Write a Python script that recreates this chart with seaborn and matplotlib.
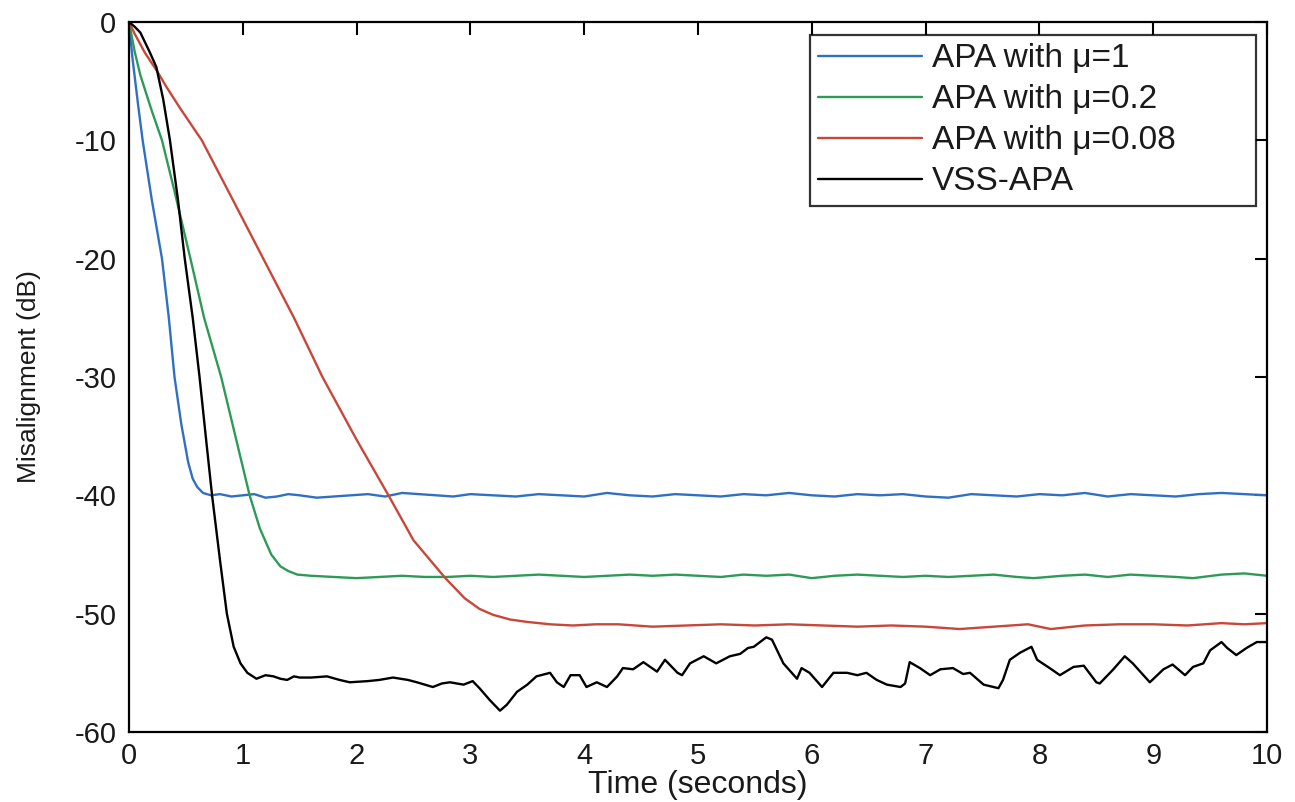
import matplotlib
matplotlib.use("Agg")
import matplotlib.pyplot as plt
import seaborn as sns
import pandas as pd

# ---- data ----
series_names = ["APA with \u03bc=1", "APA with \u03bc=0.2", "APA with \u03bc=0.08", "VSS-APA"]
series_colors = ["#3070c4", "#2e9a58", "#c9463a", "#000000"]

apa_mu1 = [(0, 0), (0.03, -3), (0.08, -7), (0.12, -10), (0.2, -15), (0.29, -20), (0.35, -25),
           (0.40, -30), (0.46, -34), (0.52, -37.2), (0.56, -38.6), (0.60, -39.3), (0.65, -39.8),
           (0.72, -40.0), (0.8, -39.9), (0.9, -40.1), (1.0, -40.0), (1.1, -39.9), (1.2, -40.2),
           (1.3, -40.1), (1.4, -39.9), (1.5, -40.0), (1.65, -40.2), (1.8, -40.1), (1.95, -40.0),
           (2.1, -39.9), (2.25, -40.1), (2.4, -39.8), (2.55, -39.9), (2.7, -40.0), (2.85, -40.1),
           (3.0, -39.9), (3.2, -40.0), (3.4, -40.1), (3.6, -39.9), (3.8, -40.0), (4.0, -40.1),
           (4.2, -39.8), (4.4, -40.0), (4.6, -40.1), (4.8, -39.9), (5.0, -40.0), (5.2, -40.1),
           (5.4, -39.9), (5.6, -40.0), (5.8, -39.8), (6.0, -40.0), (6.2, -40.1), (6.4, -39.9),
           (6.6, -40.0), (6.8, -39.9), (7.0, -40.1), (7.2, -40.2), (7.4, -39.9), (7.6, -40.0),
           (7.8, -40.1), (8.0, -39.9), (8.2, -40.0), (8.4, -39.8), (8.6, -40.1), (8.8, -39.9),
           (9.0, -40.0), (9.2, -40.1), (9.4, -39.9), (9.6, -39.8), (9.8, -39.9), (10.0, -40.0)]

apa_mu02 = [(0, 0), (0.05, -2.5), (0.1, -4.5), (0.2, -7.5), (0.29, -10), (0.4, -14.3), (0.54, -20),
            (0.66, -25), (0.81, -30), (0.94, -35.2), (1.06, -40), (1.15, -42.8), (1.25, -45.0),
            (1.33, -46.0), (1.40, -46.4), (1.48, -46.7), (1.6, -46.8), (1.8, -46.9), (2.0, -47.0),
            (2.2, -46.9), (2.4, -46.8), (2.6, -46.9), (2.8, -46.9), (3.0, -46.8), (3.2, -46.9),
            (3.4, -46.8), (3.6, -46.7), (3.8, -46.8), (4.0, -46.9), (4.2, -46.8), (4.4, -46.7),
            (4.6, -46.8), (4.8, -46.7), (5.0, -46.8), (5.2, -46.9), (5.4, -46.7), (5.6, -46.8),
            (5.8, -46.7), (6.0, -47.0), (6.2, -46.8), (6.4, -46.7), (6.6, -46.8), (6.8, -46.9),
            (7.0, -46.8), (7.2, -46.9), (7.4, -46.8), (7.6, -46.7), (7.8, -46.9), (7.95, -47.0),
            (8.2, -46.8), (8.4, -46.7), (8.6, -46.9), (8.8, -46.7), (9.0, -46.8), (9.2, -46.9),
            (9.35, -47.0), (9.6, -46.7), (9.8, -46.6), (10.0, -46.8)]

apa_mu008 = [(0, 0), (0.05, -1), (0.14, -2.6), (0.25, -4.2), (0.33, -5.5), (0.45, -7.3), (0.64, -10),
             (0.9, -14.8), (1.18, -20), (1.45, -25), (1.70, -30), (2.0, -35.3), (2.28, -40),
             (2.5, -43.8), (2.78, -47), (2.95, -48.7), (3.08, -49.6), (3.2, -50.1), (3.35, -50.5),
             (3.5, -50.7), (3.7, -50.9), (3.9, -51.0), (4.1, -50.9), (4.3, -50.9), (4.6, -51.1),
             (4.9, -51.0), (5.2, -50.9), (5.5, -51.0), (5.8, -50.9), (6.1, -51.0), (6.4, -51.1),
             (6.7, -51.0), (7.0, -51.1), (7.3, -51.3), (7.6, -51.1), (7.9, -50.9), (8.1, -51.3),
             (8.4, -51.0), (8.7, -50.9), (9.0, -50.9), (9.3, -51.0), (9.6, -50.8), (9.8, -50.9),
             (10.0, -50.8)]

vss_apa = [(0, 0), (0.05, -0.4), (0.1, -0.9), (0.18, -2.5), (0.24, -3.8), (0.3, -6.5), (0.36, -10),
           (0.43, -15), (0.49, -20), (0.56, -25), (0.62, -30), (0.68, -35.5), (0.73, -40),
           (0.8, -45.5), (0.86, -50), (0.92, -52.8), (0.98, -54.2), (1.04, -55.0), (1.12, -55.5),
           (1.2, -55.2), (1.27, -55.3), (1.33, -55.5), (1.39, -55.6), (1.45, -55.3), (1.5, -55.4),
           (1.6, -55.4), (1.74, -55.3), (1.85, -55.6), (1.94, -55.8), (2.1, -55.7), (2.2, -55.6),
           (2.32, -55.4), (2.45, -55.6), (2.53, -55.8), (2.6, -56.0), (2.67, -56.2), (2.75, -55.9),
           (2.82, -55.8), (2.94, -56.0), (3.02, -55.7), (3.08, -56.3), (3.17, -57.3), (3.26, -58.2),
           (3.32, -57.7), (3.41, -56.6), (3.50, -56.0), (3.58, -55.3), (3.70, -55.0), (3.76, -55.8),
           (3.82, -56.2), (3.88, -55.2), (3.96, -55.2), (4.02, -56.2), (4.11, -55.8), (4.20, -56.2),
           (4.29, -55.3), (4.34, -54.6), (4.43, -54.7), (4.52, -54.1), (4.64, -54.9), (4.71, -53.9),
           (4.82, -55.0), (4.86, -55.2), (4.93, -54.2), (5.05, -53.6), (5.16, -54.2), (5.28, -53.6),
           (5.37, -53.4), (5.44, -52.9), (5.49, -52.8), (5.60, -52.0), (5.65, -52.2), (5.75, -54.2),
           (5.87, -55.5), (5.91, -54.6), (5.98, -55.0), (6.09, -56.2), (6.19, -55.0), (6.31, -55.0),
           (6.40, -55.2), (6.48, -55.0), (6.57, -55.6), (6.66, -56.0), (6.78, -56.2), (6.82, -55.9),
           (6.86, -54.1), (6.95, -54.6), (7.04, -55.2), (7.13, -54.7), (7.24, -54.6), (7.33, -55.1),
           (7.39, -55.0), (7.51, -56.0), (7.64, -56.3), (7.68, -55.6), (7.74, -53.9), (7.83, -53.3),
           (7.93, -52.8), (7.98, -53.9), (8.09, -54.6), (8.18, -55.2), (8.30, -54.5), (8.39, -54.4),
           (8.50, -55.8), (8.53, -55.9), (8.65, -54.7), (8.75, -53.6), (8.82, -54.2), (8.97, -55.8),
           (9.09, -54.7), (9.17, -54.3), (9.28, -55.2), (9.35, -54.5), (9.44, -54.2), (9.50, -53.1),
           (9.60, -52.4), (9.65, -52.9), (9.73, -53.5), (9.82, -52.9), (9.91, -52.4), (10.0, -52.4)]

x_ticks = [0, 1, 2, 3, 4, 5, 6, 7, 8, 9, 10]
y_ticks = [0, -10, -20, -30, -40, -50, -60]

# ---- build long-form table ----
rows = []
for name, pts in zip(series_names, [apa_mu1, apa_mu02, apa_mu008, vss_apa]):
    for t, v in pts:
        rows.append({"Time": t, "Misalignment": v, "Series": name})
df = pd.DataFrame(rows)

sns.set_theme(style="white")
plt.rcParams["font.family"] = ["Liberation Sans", "DejaVu Sans"]
plt.rcParams["axes.unicode_minus"] = False
plt.rcParams["axes.edgecolor"] = "black"
plt.rcParams["axes.linewidth"] = 1.6

TXT = "#1a1a1a"

fig = plt.figure(figsize=(12.95, 8.02), dpi=100)
ax = fig.add_axes([0.0996, 0.0873, 0.8788, 0.8853])

sns.lineplot(data=df, x="Time", y="Misalignment", hue="Series",
             hue_order=series_names, palette=series_colors,
             estimator=None, sort=False, linewidth=1.7, ax=ax)

ax.set_xlim(0, 10)
ax.set_ylim(-60, 0)
ax.set_xticks(x_ticks)
ax.set_yticks(y_ticks)
ax.tick_params(direction="in", length=9, width=1.5, top=True, right=True,
               labelsize=21, colors="black", labelcolor=TXT, pad=9)
ax.tick_params(axis="x", pad=7)
for s in ax.spines.values():
    s.set_visible(True)
    s.set_color("black")
    s.set_linewidth(1.6)

ax.set_xlabel("Time (seconds)", fontsize=23, color=TXT, labelpad=0)
ax.set_ylabel("Misalignment (dB)", fontsize=19, color=TXT, labelpad=24)

handles, labels = ax.get_legend_handles_labels()
leg = ax.legend(handles, labels, loc="upper left",
                bbox_to_anchor=(0.5984, 0.749, 0.3916, 0.2327), mode="expand",
                borderaxespad=0.0, fontsize=24,
                frameon=True, fancybox=False, edgecolor="black",
                handlelength=3.1, handletextpad=0.3,
                labelspacing=0.3, borderpad=0.25)
leg.get_frame().set_linewidth(1.6)
for text in leg.get_texts():
    text.set_color(TXT)
for line in leg.get_lines():
    line.set_linewidth(1.7)

fig.savefig("out.png", dpi=100)
